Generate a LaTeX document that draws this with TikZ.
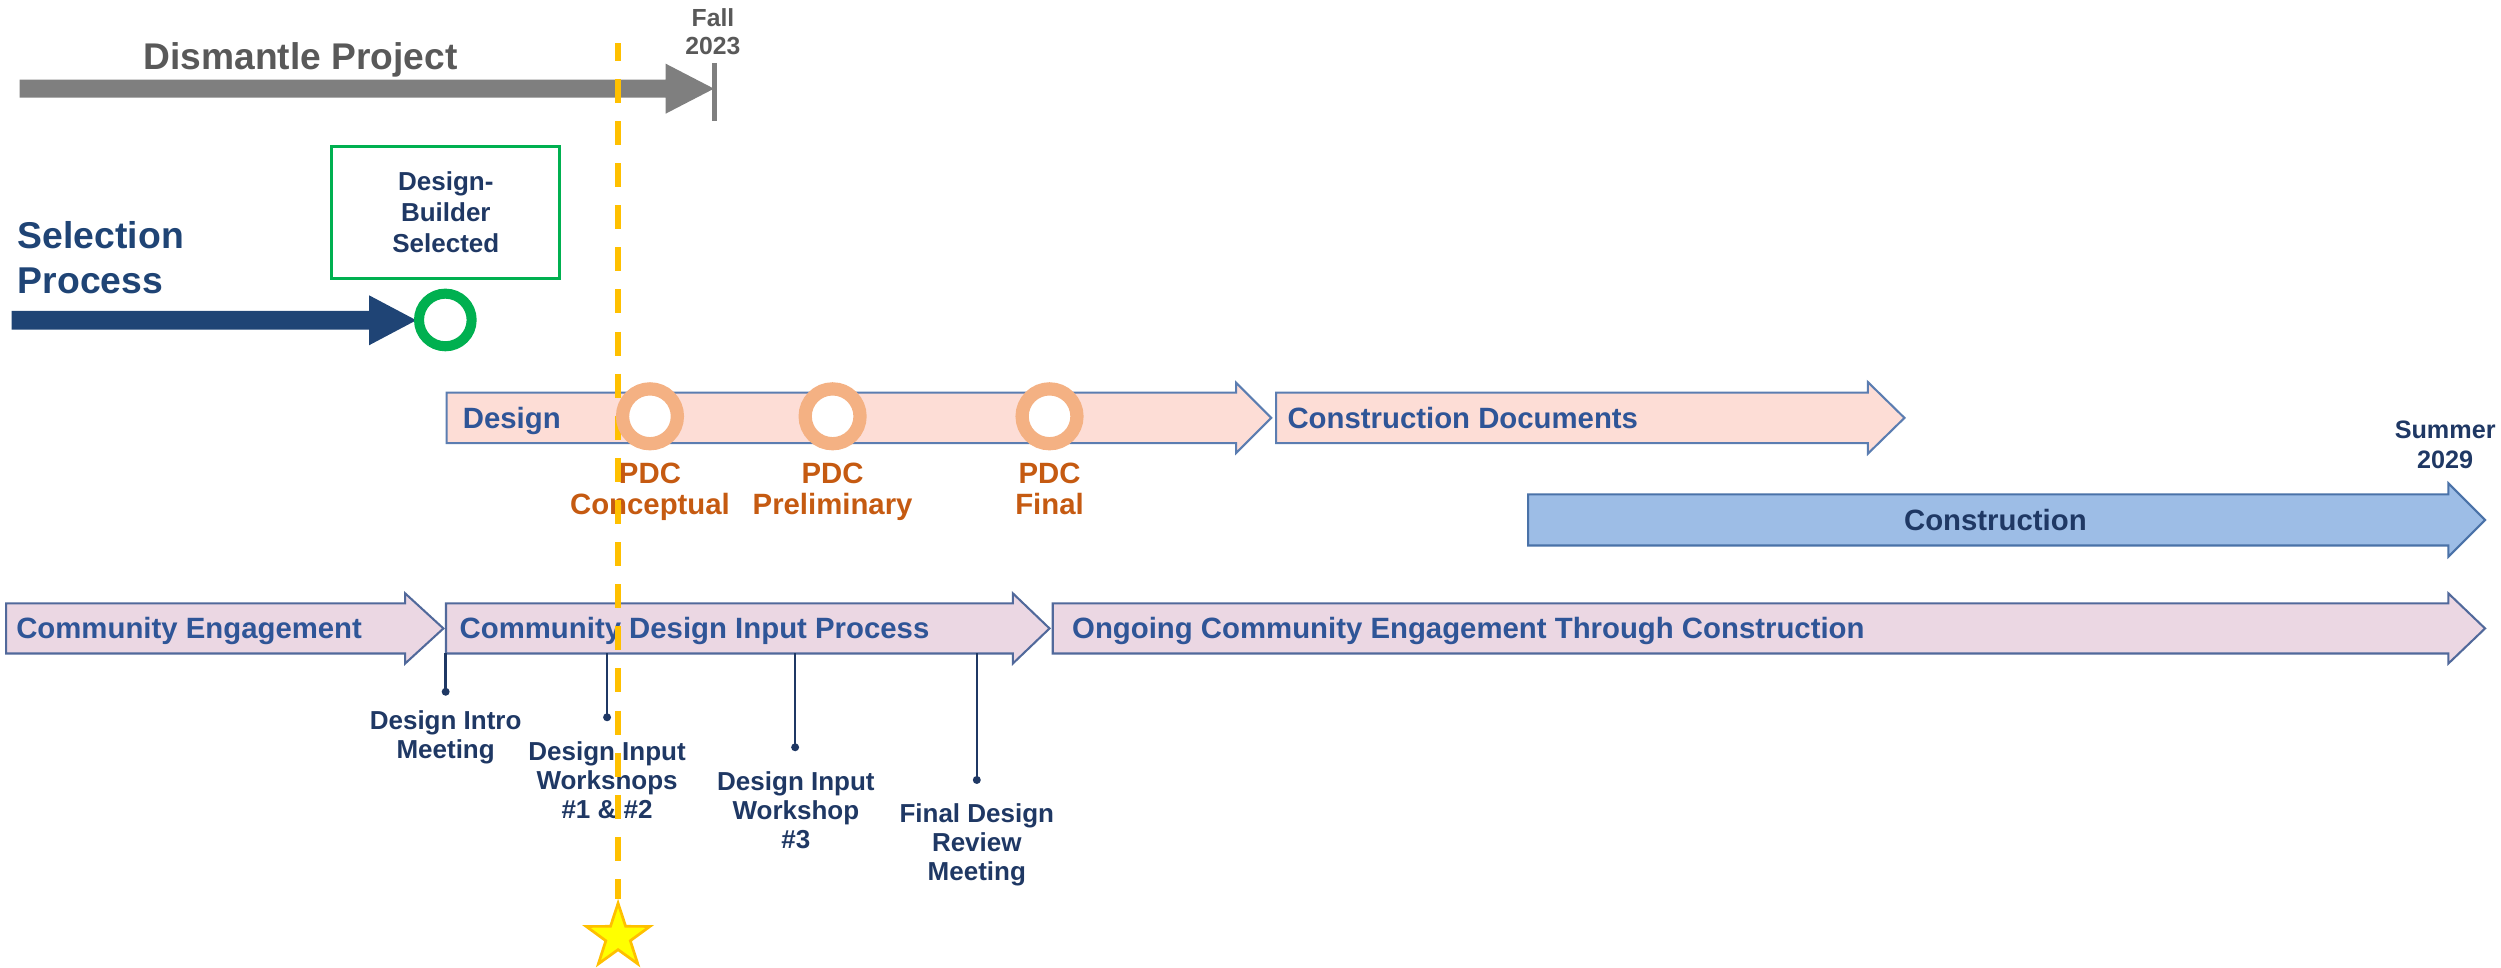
\documentclass[tikz,border=0pt]{standalone}
\usepackage{fontspec}
\setmainfont{Liberation Sans}
\usetikzlibrary{shapes.geometric}
\definecolor{dgray}{HTML}{7F7F7F}
\definecolor{dtext}{HTML}{595959}
\definecolor{navy}{HTML}{1F3864}
\definecolor{lblue}{HTML}{2F5597}
\definecolor{selnavy}{HTML}{1F4475}
\definecolor{grn}{HTML}{00B050}
\definecolor{ringor}{HTML}{F4B183}
\definecolor{pdcor}{HTML}{C55A11}
\definecolor{pinkfill}{HTML}{FDDDD6}
\definecolor{bordblue}{HTML}{5B7DB1}
\definecolor{commbord}{HTML}{51699B}
\definecolor{constfill}{HTML}{9DBDE6}
\definecolor{constbord}{HTML}{4A72A8}
\definecolor{commfill}{HTML}{EBD7E3}
\definecolor{yel}{HTML}{FFC000}
\definecolor{starfill}{HTML}{FFFF00}
\newcommand\blockarrow[8]{%
  \filldraw[fill=#1,draw=#2,line width=1.3pt,line join=miter]
    (#3,{#6-#7}) -- (#4,{#6-#7}) -- (#4,{#6-#8}) -- (#5,#6) --
    (#4,{#6+#8}) -- (#4,{#6+#7}) -- (#3,{#6+#7}) -- cycle;}
\begin{document}
\begin{tikzpicture}[x=1pt,y=-1pt,
  every node/.style={inner sep=0pt},
  albl/.style={text=lblue, font=\bfseries\fontsize{18.4}{20}\selectfont, anchor=base west},
  mile/.style={text=navy, align=center, font=\bfseries\fontsize{16.3}{18.2}\selectfont, anchor=north},
  pdc/.style={text=pdcor, align=center, font=\bfseries\fontsize{18.4}{19.4}\selectfont, anchor=north},
  ring/.style={circle, draw=ringor, line width=8.3pt, fill=white, minimum size=34.4pt},
  mdot/.style={circle, fill=navy, minimum size=5pt},
  mline/.style={draw=navy, line width=1.5pt}]
\useasboundingbox (0,0) rectangle (1568,606.3);

% Dismantle project
\blockarrow{dgray}{dgray}{13}{418}{446.2}{55.6}{5}{14.6}
\coordinate (tickt) at (447.7,39.5);
\coordinate (tickb) at (447.7,76);
\draw[dgray, line width=3.2pt] (tickt) -- (tickb);
\node[text=dtext, anchor=base, font=\bfseries\fontsize{23.3}{26}\selectfont] (dis) at (188.5,43.5) {Dismantle Project};
\node[text=dtext, align=center, anchor=north, font=\bfseries\fontsize{15.5}{17.7}\selectfont] (fall) at (447,5) {Fall\\2023};

% Selection process
\node[text=selnavy, align=left, anchor=north west, font=\bfseries\fontsize{23.4}{28.2}\selectfont] (sel) at (11,138.6) {Selection\\Process};
\blockarrow{selnavy}{selnavy}{8}{232}{259.6}{200.8}{5.2}{14.6}
\node[draw=grn, line width=2pt, minimum width=143pt, minimum height=83pt, text=navy, align=center, font=\bfseries\fontsize{16.3}{19.5}\selectfont] (dbs) at (279.5,133.2) {Design-\\Builder\\Selected};
\node[circle, draw=grn, line width=6.3pt, fill=white, minimum size=33pt] (gring) at (279.2,200.6) {};

% Design and construction documents
\blockarrow{pinkfill}{bordblue}{280}{775}{797}{262}{15.8}{22}
\blockarrow{pinkfill}{bordblue}{800}{1171}{1194}{262}{15.8}{22.5}
\node[albl] (des) at (290,268.5) {Design};
\node[albl] (cd) at (807,268.5) {Construction Documents};

% Construction
\node[text=navy, align=center, anchor=north, font=\bfseries\fontsize{15.8}{18.6}\selectfont] (sum) at (1533,263.7) {Summer\\2029};
\blockarrow{constfill}{constbord}{958}{1535}{1558}{326}{16}{23}
\node[albl, text=navy, anchor=base] (con) at (1251,332.5) {Construction};

% Community engagement
\blockarrow{commfill}{commbord}{3.8}{254}{278}{394}{15.7}{22}
\blockarrow{commfill}{commbord}{279.6}{635}{658}{394}{15.7}{22}
\blockarrow{commfill}{commbord}{660}{1535}{1558}{394}{15.7}{22}
\node[albl] (ce) at (10,400) {Community Engagement};
\node[albl] (cdip) at (288,400) {Community Design Input Process};
\node[albl] (oce) at (672,400) {Ongoing Community Engagement Through Construction};

% Milestones
\coordinate (m1) at (279.4,409.7);
\coordinate (m2) at (380.6,409.7);
\coordinate (m3) at (498.5,409.7);
\coordinate (m4) at (612.4,409.7);
\node[mdot] (d1) at (279.4,433.7) {};
\node[mdot] (d2) at (380.6,449.7) {};
\node[mdot] (d3) at (498.5,468.5) {};
\node[mdot] (d4) at (612.4,489) {};
\draw[mline] (m1) -- (d1.center);
\draw[mline] (m2) -- (d2.center);
\draw[mline] (m3) -- (d3.center);
\draw[mline] (m4) -- (d4.center);
\node[mile] (t1) at (279.4,445.5) {Design Intro\\Meeting};
\node[mile] (t2) at (380.6,465) {Design Input\\Workshops\\\#1 \& \#2};
\node[mile] (t3) at (499,483.8) {Design Input\\Workshop\\\#3};
\node[mile] (t4) at (612.4,503.6) {Final Design\\Review\\Meeting};

% PDC labels
\node[pdc] (l1) at (407.5,290) {PDC\\Conceptual};
\node[pdc] (l2) at (522,290) {PDC\\Preliminary};
\node[pdc] (l3) at (658,290) {PDC\\Final};

% Today line and star
\node[star, star points=5, star point ratio=2.6, fill=starfill, draw=yel, line width=1.7pt, minimum size=42pt] (star) at (387.5,587.3) {};
\coordinate (ytop) at (387.5,27.2);
\draw[yel, line width=3.5pt, dash pattern=on 15pt off 11.4pt, dash phase=4.1pt] (ytop) -- (star.north);

% PDC rings
\node[ring] (p1) at (407.5,261) {};
\node[ring] (p2) at (522,261) {};
\node[ring] (p3) at (658,261) {};
\end{tikzpicture}
\end{document}
